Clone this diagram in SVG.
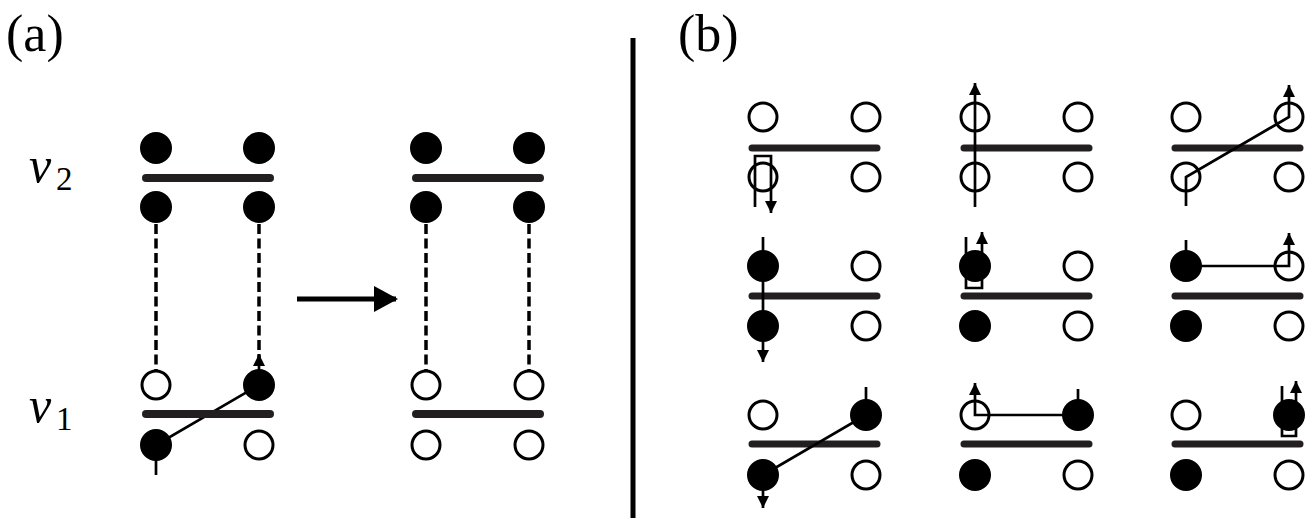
<svg xmlns="http://www.w3.org/2000/svg" width="1308" height="523" viewBox="0 0 1308 523">
<defs>
<marker id="ah" viewBox="0 0 12 12" refX="12" refY="6" markerWidth="12" markerHeight="12" markerUnits="userSpaceOnUse" orient="auto"><path d="M0,0 L12,6 L0,12 Z" fill="#000"/></marker>
<marker id="big" viewBox="0 0 24 26" refX="22" refY="13" markerWidth="24" markerHeight="26" markerUnits="userSpaceOnUse" orient="auto"><path d="M0,0 L24,13 L0,26 Z" fill="#000"/></marker>
</defs>
<style>
.f{fill:#000;stroke:#000;stroke-width:3}
.o{fill:#fff;stroke:#000;stroke-width:3}
.bar{stroke:#231f20;stroke-width:8;stroke-linecap:round}
.sbar{stroke:#231f20;stroke-width:7;stroke-linecap:round}
.ln{fill:none;stroke:#000;stroke-width:2.7}
.ds{fill:none;stroke:#000;stroke-width:3.5;stroke-dasharray:10 4.5}
.t{font-family:"Liberation Serif",serif;fill:#000}
</style>
<rect width="1308" height="523" fill="#fff"/>
<text class="t" x="6" y="51" font-size="52">(a)</text>
<text class="t" x="678" y="51" font-size="52">(b)</text>
<g id="v2label"><text class="t" x="29" y="182" font-size="50" font-style="italic">v</text><text class="t" x="56" y="190" font-size="33">2</text></g>
<g id="v1label"><text class="t" x="29" y="422" font-size="50" font-style="italic">v</text><text class="t" x="56" y="430" font-size="33">1</text></g>
<line x1="633" y1="38" x2="633" y2="518" stroke="#000" stroke-width="5"/>
<g id="connectors">
<line class="ds" x1="156" y1="224" x2="156" y2="370"/>
<line class="ds" x1="259" y1="224" x2="259" y2="362"/>
<line class="ln" x1="259" y1="372" x2="259" y2="354" marker-end="url(#ah)"/>
<polyline class="ln" points="156,475 156,445 259,385"/>
<line class="ds" x1="426" y1="224" x2="426" y2="370"/>
<line class="ds" x1="529" y1="224" x2="529" y2="370"/>
<line x1="297" y1="299" x2="396" y2="299" stroke="#000" stroke-width="5" marker-end="url(#big)"/>
</g>
<g id="a-left">
<line class="bar" x1="146" y1="178" x2="270" y2="178"/>
<line class="bar" x1="146" y1="414" x2="270" y2="414"/>
<circle class="f" cx="156" cy="148" r="14.5"/><circle class="f" cx="259" cy="148" r="14.5"/>
<circle class="f" cx="156" cy="207" r="14.5"/><circle class="f" cx="259" cy="207" r="14.5"/>
<circle class="o" cx="156" cy="385" r="14"/><circle class="f" cx="259" cy="385" r="14.5"/>
<circle class="f" cx="156" cy="445" r="14.5"/><circle class="o" cx="259" cy="445" r="14"/>
</g>
<g id="a-right">
<line class="bar" x1="416" y1="178" x2="540" y2="178"/>
<line class="bar" x1="416" y1="414" x2="540" y2="414"/>
<circle class="f" cx="426" cy="148" r="14.5"/><circle class="f" cx="529" cy="148" r="14.5"/>
<circle class="f" cx="426" cy="207" r="14.5"/><circle class="f" cx="529" cy="207" r="14.5"/>
<circle class="o" cx="426" cy="385" r="14"/><circle class="o" cx="529" cy="385" r="14"/>
<circle class="o" cx="426" cy="445" r="14"/><circle class="o" cx="529" cy="445" r="14"/>
</g>
<g id="b11">
<line class="sbar" x1="752" y1="148" x2="877" y2="148"/>
<circle class="o" cx="763" cy="117" r="14"/><circle class="o" cx="866" cy="117" r="14"/>
<circle class="o" cx="763" cy="177" r="14"/><circle class="o" cx="866" cy="177" r="14"/>
<polyline class="ln" points="755,207 755,156 771,156 771,213" marker-end="url(#ah)"/>
</g>
<g id="b12">
<line class="sbar" x1="964" y1="148" x2="1089" y2="148"/>
<circle class="o" cx="975" cy="117" r="14"/><circle class="o" cx="1078" cy="117" r="14"/>
<circle class="o" cx="975" cy="177" r="14"/><circle class="o" cx="1078" cy="177" r="14"/>
<line class="ln" x1="975" y1="207" x2="975" y2="83" marker-end="url(#ah)"/>
</g>
<g id="b13">
<line class="sbar" x1="1175" y1="148" x2="1300" y2="148"/>
<circle class="o" cx="1186" cy="117" r="14"/><circle class="o" cx="1289" cy="117" r="14"/>
<circle class="o" cx="1186" cy="177" r="14"/><circle class="o" cx="1289" cy="177" r="14"/>
<polyline class="ln" points="1186,206 1186,177 1289,117 1289,85" marker-end="url(#ah)"/>
</g>
<g id="b21">
<line class="sbar" x1="752" y1="296" x2="877" y2="296"/>
<circle class="f" cx="763" cy="266" r="14.5"/><circle class="o" cx="866" cy="266" r="14"/>
<circle class="f" cx="763" cy="326" r="14.5"/><circle class="o" cx="866" cy="326" r="14"/>
<line class="ln" x1="763" y1="237" x2="763" y2="362" marker-end="url(#ah)"/>
</g>
<g id="b22">
<line class="sbar" x1="964" y1="296" x2="1089" y2="296"/>
<circle class="f" cx="975" cy="266" r="14.5"/><circle class="o" cx="1078" cy="266" r="14"/>
<circle class="f" cx="975" cy="326" r="14.5"/><circle class="o" cx="1078" cy="326" r="14"/>
<polyline class="ln" points="966,237 966,288 982,288 982,232" marker-end="url(#ah)"/>
</g>
<g id="b23">
<line class="sbar" x1="1175" y1="296" x2="1300" y2="296"/>
<circle class="f" cx="1186" cy="266" r="14.5"/><circle class="o" cx="1289" cy="266" r="14"/>
<circle class="f" cx="1186" cy="326" r="14.5"/><circle class="o" cx="1289" cy="326" r="14"/>
<polyline class="ln" points="1186,240 1186,266 1289,266 1289,233" marker-end="url(#ah)"/>
</g>
<g id="b31">
<line class="sbar" x1="752" y1="444" x2="877" y2="444"/>
<circle class="o" cx="763" cy="415" r="14"/><circle class="f" cx="866" cy="415" r="14.5"/>
<circle class="f" cx="763" cy="475" r="14.5"/><circle class="o" cx="866" cy="475" r="14"/>
<polyline class="ln" points="866,387 866,415 763,475 763,508" marker-end="url(#ah)"/>
</g>
<g id="b32">
<line class="sbar" x1="964" y1="444" x2="1089" y2="444"/>
<circle class="o" cx="975" cy="415" r="14"/><circle class="f" cx="1078" cy="415" r="14.5"/>
<circle class="f" cx="975" cy="475" r="14.5"/><circle class="o" cx="1078" cy="475" r="14"/>
<polyline class="ln" points="1078,389 1078,415 975,415 975,383" marker-end="url(#ah)"/>
</g>
<g id="b33">
<line class="sbar" x1="1175" y1="444" x2="1300" y2="444"/>
<circle class="o" cx="1186" cy="415" r="14"/><circle class="f" cx="1289" cy="415" r="14.5"/>
<circle class="f" cx="1186" cy="475" r="14.5"/><circle class="o" cx="1289" cy="475" r="14"/>
<polyline class="ln" points="1282,386 1282,436 1296,436 1296,381" marker-end="url(#ah)"/>
</g>
</svg>
